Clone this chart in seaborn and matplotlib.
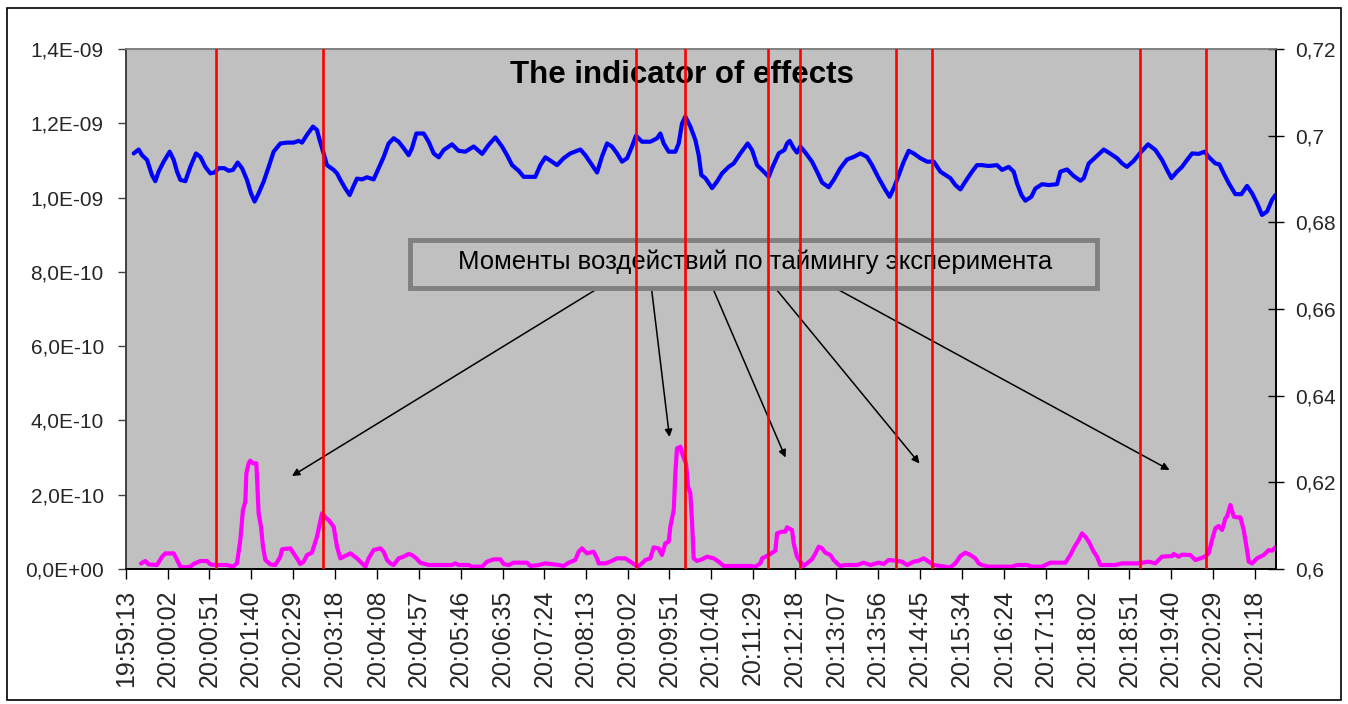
import matplotlib
matplotlib.use("Agg")

import matplotlib.pyplot as plt  # noqa: E402
import pandas as pd  # noqa: E402
import seaborn as sns  # noqa: E402
from matplotlib.patches import Rectangle  # noqa: E402
from matplotlib.ticker import FuncFormatter, MultipleLocator  # noqa: E402

# ---------------------------------------------------------------------------
# Data (seconds after 19:59:13)
# ---------------------------------------------------------------------------
tick_labels = [
    "19:59:13", "20:00:02", "20:00:51", "20:01:40", "20:02:29", "20:03:18",
    "20:04:08", "20:04:57", "20:05:46", "20:06:35", "20:07:24", "20:08:13",
    "20:09:02", "20:09:51", "20:10:40", "20:11:29", "20:12:18", "20:13:07",
    "20:13:56", "20:14:45", "20:15:34", "20:16:24", "20:17:13", "20:18:02",
    "20:18:51", "20:19:40", "20:20:29", "20:21:18",
]

# moments of the experimental effects (red lines)
event_sec = [106.0, 230.9, 598.7, 655.9, 753.7, 791.6, 904.3, 946.6, 1190.4, 1267.6]

# blue series (right axis)
blue_sec = [
    9.0, 14.9, 18.8, 24.7, 30.5, 34.4, 38.3, 44.2, 51.3, 56.0,
    59.9, 63.8, 69.7, 75.5, 82.2, 87.3, 93.1, 99.0, 103.7, 108.8,
    115.4, 120.5, 125.6, 131.1, 136.2, 142.0, 146.7, 151.0, 155.7, 161.6,
    167.5, 173.3, 181.2, 189.0, 196.8, 202.7, 206.6, 212.5, 219.5, 224.2,
    227.3, 232.0, 235.9, 243.8, 247.7, 251.6, 257.5, 262.6, 266.5, 271.2,
    277.0, 282.9, 290.7, 296.6, 302.5, 308.3, 314.2, 320.1, 326.0, 331.8,
    335.7, 340.8, 349.5, 355.3, 361.2, 367.1, 373.0, 382.7, 390.5, 398.4,
    408.2, 418.1, 425.8, 433.6, 441.4, 447.3, 453.2, 461.0, 466.8, 480.5,
    486.4, 492.3, 500.1, 506.0, 513.8, 521.6, 533.4, 539.2, 547.1, 553.0,
    558.8, 564.7, 570.5, 576.4, 582.3, 588.2, 594.0, 598.7, 605.8, 615.5,
    623.4, 627.3, 631.2, 637.1, 644.9, 648.8, 652.7, 656.6, 662.5, 668.4,
    672.3, 675.4, 680.1, 688.0, 693.8, 699.7, 707.5, 713.4, 721.2, 729.8,
    734.9, 740.8, 748.6, 754.5, 758.4, 766.2, 772.9, 776.0, 779.1, 783.8,
    787.7, 791.6, 797.5, 805.3, 811.2, 817.1, 824.9, 830.8, 838.6, 846.4,
    854.3, 862.1, 869.9, 875.8, 883.6, 891.4, 896.5, 902.0, 907.1, 913.0,
    918.8, 924.7, 932.5, 940.4, 948.2, 956.0, 967.7, 973.6, 979.5, 985.3,
    993.2, 999.0, 1004.9, 1012.8, 1022.5, 1028.4, 1036.2, 1042.1, 1046.0, 1051.1,
    1055.8, 1062.8, 1067.5, 1075.4, 1083.2, 1093.0, 1096.9, 1104.7, 1112.5, 1120.4,
    1124.3, 1130.2, 1138.0, 1147.8, 1153.6, 1163.4, 1169.3, 1175.1, 1183.0, 1189.6,
    1199.8, 1208.4, 1216.2, 1222.1, 1227.2, 1233.8, 1239.7, 1245.6, 1251.5, 1259.3,
    1266.3, 1271.0, 1278.8, 1283.5, 1288.6, 1294.6, 1302.3, 1309.4, 1316.0, 1321.9,
    1327.8, 1333.6, 1339.5, 1345.4, 1349.3,
]
blue_val = [
    0.6959, 0.6968, 0.6955, 0.6944, 0.6909, 0.6895, 0.6917, 0.6940, 0.6963, 0.6944,
    0.6917, 0.6898, 0.6895, 0.6928, 0.6959, 0.6951, 0.6928, 0.6913, 0.6915, 0.6925,
    0.6925, 0.6919, 0.6921, 0.6938, 0.6925, 0.6898, 0.6867, 0.6848, 0.6867, 0.6894,
    0.6928, 0.6963, 0.6982, 0.6984, 0.6984, 0.6988, 0.6984, 0.7002, 0.7021, 0.7013,
    0.6990, 0.6959, 0.6932, 0.6921, 0.6913, 0.6898, 0.6878, 0.6863, 0.6881, 0.6901,
    0.6899, 0.6904, 0.6899, 0.6925, 0.6951, 0.6982, 0.6994, 0.6986, 0.6971, 0.6955,
    0.6971, 0.7005, 0.7005, 0.6986, 0.6959, 0.6950, 0.6967, 0.6980, 0.6965, 0.6963,
    0.6975, 0.6958, 0.6979, 0.6996, 0.6975, 0.6955, 0.6932, 0.6919, 0.6905, 0.6905,
    0.6932, 0.6950, 0.6940, 0.6932, 0.6948, 0.6959, 0.6968, 0.6955, 0.6932, 0.6915,
    0.6952, 0.6982, 0.6975, 0.6959, 0.6940, 0.6948, 0.6975, 0.7000, 0.6986, 0.6986,
    0.6994, 0.7005, 0.6982, 0.6963, 0.6963, 0.6982, 0.7028, 0.7044, 0.7021, 0.6990,
    0.6955, 0.6909, 0.6902, 0.6879, 0.6894, 0.6913, 0.6928, 0.6936, 0.6959, 0.6982,
    0.6967, 0.6932, 0.6917, 0.6905, 0.6925, 0.6959, 0.6967, 0.6982, 0.6988, 0.6971,
    0.6961, 0.6975, 0.6961, 0.6940, 0.6917, 0.6892, 0.6881, 0.6898, 0.6925, 0.6945,
    0.6951, 0.6959, 0.6951, 0.6932, 0.6902, 0.6875, 0.6859, 0.6882, 0.6909, 0.6940,
    0.6965, 0.6959, 0.6948, 0.6940, 0.6940, 0.6917, 0.6902, 0.6886, 0.6876, 0.6894,
    0.6917, 0.6932, 0.6932, 0.6930, 0.6932, 0.6921, 0.6928, 0.6917, 0.6890, 0.6863,
    0.6850, 0.6859, 0.6878, 0.6888, 0.6886, 0.6888, 0.6917, 0.6922, 0.6907, 0.6896,
    0.6902, 0.6936, 0.6950, 0.6968, 0.6961, 0.6948, 0.6936, 0.6928, 0.6942, 0.6958,
    0.6980, 0.6967, 0.6944, 0.6921, 0.6902, 0.6917, 0.6928, 0.6944, 0.6959, 0.6958,
    0.6963, 0.6951, 0.6936, 0.6934, 0.6913, 0.6890, 0.6865, 0.6865, 0.6884, 0.6867,
    0.6844, 0.6817, 0.6825, 0.6852, 0.6863,
]

# magenta series (left axis, in units of 1E-10)
pink_sec = [
    17.6, 22.7, 26.6, 36.4, 42.3, 46.2, 56.0, 59.1, 63.8, 69.7,
    75.5, 79.4, 87.3, 95.1, 99.0, 104.9, 118.6, 125.6, 130.3, 134.2,
    137.3, 140.1, 141.3, 144.0, 145.9, 149.1, 153.0, 155.7, 158.5, 160.8,
    163.6, 169.4, 175.3, 181.2, 183.1, 192.9, 196.8, 200.7, 204.6, 208.6,
    212.5, 218.3, 224.2, 230.1, 234.0, 237.9, 243.8, 247.7, 251.6, 259.4,
    263.4, 271.2, 277.0, 281.0, 284.9, 290.7, 298.6, 302.5, 306.4, 310.3,
    314.2, 320.1, 325.9, 331.8, 335.7, 340.8, 345.5, 355.3, 382.7, 386.6,
    390.5, 402.3, 406.2, 418.1, 423.8, 431.6, 439.5, 443.4, 449.2, 455.1,
    470.8, 474.7, 484.5, 492.3, 508.0, 513.8, 519.7, 527.5, 531.4, 535.3,
    541.2, 549.0, 553.0, 554.9, 562.7, 568.6, 576.4, 586.2, 592.1, 598.0,
    601.9, 605.8, 609.7, 615.5, 619.5, 625.3, 629.2, 633.1, 637.1, 639.0,
    643.0, 644.9, 646.8, 650.8, 653.5, 657.4, 659.8, 662.5, 664.5, 666.4,
    670.3, 676.2, 682.1, 689.9, 695.8, 701.7, 709.5, 733.0, 738.8, 744.7,
    746.7, 754.5, 762.3, 764.3, 770.1, 774.0, 776.0, 781.9, 783.8, 787.7,
    791.6, 795.6, 799.5, 805.3, 809.3, 813.2, 817.1, 821.0, 826.9, 830.8,
    834.7, 838.6, 844.5, 858.2, 866.0, 873.8, 883.6, 889.5, 895.3, 903.2,
    911.0, 916.9, 924.7, 930.6, 936.4, 942.3, 948.2, 956.0, 967.7, 973.6,
    979.5, 985.3, 991.2, 997.1, 1001.0, 1004.9, 1012.8, 1040.1, 1046.0, 1057.8,
    1063.6, 1075.4, 1085.2, 1102.8, 1108.6, 1112.5, 1118.4, 1122.3, 1126.2, 1130.2,
    1136.0, 1139.9, 1143.8, 1161.5, 1169.3, 1188.8, 1200.6, 1208.4, 1216.2, 1228.0,
    1229.9, 1235.8, 1239.7, 1249.5, 1255.4, 1261.2, 1266.3, 1271.0, 1274.9, 1278.8,
    1282.7, 1286.7, 1290.6, 1292.5, 1296.5, 1300.4, 1304.3, 1308.2, 1312.1, 1316.0,
    1318.0, 1321.9, 1327.8, 1335.6, 1341.5, 1345.4, 1349.3,
]
pink_val_e10 = [
    0.15, 0.215, 0.125, 0.107, 0.33, 0.42, 0.42, 0.287, 0.063, 0.045,
    0.063, 0.135, 0.215, 0.215, 0.125, 0.107, 0.107, 0.063, 0.152, 0.78,
    1.588, 1.813, 2.575, 2.845, 2.916, 2.845, 2.845, 1.499, 1.139, 0.601,
    0.242, 0.125, 0.107, 0.332, 0.529, 0.556, 0.421, 0.287, 0.134, 0.197,
    0.377, 0.44, 0.87, 1.499, 1.391, 1.319, 1.139, 0.601, 0.287, 0.377,
    0.421, 0.287, 0.152, 0.063, 0.287, 0.511, 0.556, 0.466, 0.242, 0.152,
    0.107, 0.287, 0.332, 0.404, 0.377, 0.287, 0.17, 0.107, 0.107, 0.152,
    0.107, 0.107, 0.063, 0.063, 0.197, 0.26, 0.26, 0.134, 0.107, 0.17,
    0.17, 0.081, 0.107, 0.152, 0.107, 0.081, 0.17, 0.242, 0.466, 0.556,
    0.421, 0.466, 0.287, 0.152, 0.152, 0.197, 0.287, 0.287, 0.197, 0.107,
    0.081, 0.152, 0.242, 0.287, 0.583, 0.556, 0.377, 0.691, 0.736, 1.139,
    1.588, 2.575, 3.248, 3.293, 3.069, 2.845, 2.216, 2.037, 1.274, 0.287,
    0.215, 0.26, 0.332, 0.287, 0.197, 0.081, 0.081, 0.081, 0.063, 0.152,
    0.287, 0.377, 0.493, 0.96, 1.005, 1.005, 1.122, 1.05, 0.691, 0.332,
    0.197, 0.081, 0.152, 0.26, 0.421, 0.601, 0.556, 0.44, 0.377, 0.242,
    0.152, 0.081, 0.107, 0.107, 0.17, 0.107, 0.17, 0.134, 0.242, 0.224,
    0.197, 0.107, 0.197, 0.224, 0.287, 0.197, 0.107, 0.081, 0.045, 0.152,
    0.35, 0.44, 0.377, 0.287, 0.152, 0.107, 0.063, 0.063, 0.107, 0.107,
    0.063, 0.063, 0.17, 0.17, 0.377, 0.556, 0.781, 0.96, 0.87, 0.736,
    0.466, 0.332, 0.107, 0.107, 0.152, 0.152, 0.197, 0.152, 0.332, 0.35,
    0.404, 0.332, 0.386, 0.377, 0.242, 0.287, 0.332, 0.421, 0.781, 1.095,
    1.158, 1.05, 1.364, 1.409, 1.723, 1.409, 1.391, 1.391, 1.05, 0.511,
    0.197, 0.152, 0.287, 0.377, 0.511, 0.493, 0.583,
]

title = "The indicator of effects"
note = "Моменты воздействий по таймингу эксперимента"


def to_sec(label: str) -> int:
    h, m, s = (int(p) for p in label.split(":"))
    return h * 3600 + m * 60 + s - (19 * 3600 + 59 * 60 + 13)


tick_sec = [to_sec(t) for t in tick_labels]
blue_df = pd.DataFrame({"sec": blue_sec, "value": blue_val})
pink_df = pd.DataFrame({"sec": pink_sec, "value": [v * 1e-10 for v in pink_val_e10]})

# ---------------------------------------------------------------------------
# Figure
# ---------------------------------------------------------------------------
sns.set_theme(style="white")
plt.rcParams["font.family"] = ["Liberation Sans", "DejaVu Sans"]

fig = plt.figure(figsize=(13.48, 7.04), dpi=100)
ax = fig.add_axes([126 / 1348, 1 - 569 / 704, 1150 / 1348, 520 / 704])
ax.set_facecolor("#C0C0C0")
ax2 = ax.twinx()

sns.lineplot(data=pink_df, x="sec", y="value", ax=ax, color="#FF00FF",
             linewidth=3.0, errorbar=None)
sns.lineplot(data=blue_df, x="sec", y="value", ax=ax2, color="#0000FF",
             linewidth=3.0, errorbar=None)

for s in event_sec:
    ax2.axvline(s, color="#FF0000", linewidth=1.9, zorder=10)

ax.set_xlim(0, 1350)
ax.set_ylim(0, 1.4e-9)
ax2.set_ylim(0.6, 0.72)
ax.yaxis.set_major_locator(MultipleLocator(2e-10))
ax2.yaxis.set_major_locator(MultipleLocator(0.02))
ax.yaxis.set_major_formatter(FuncFormatter(lambda v, _: f"{v:.1E}".replace(".", ",")))
ax2.yaxis.set_major_formatter(FuncFormatter(lambda v, _: f"{round(v, 2):g}".replace(".", ",")))
ax.yaxis.get_offset_text().set_visible(False)
ax2.yaxis.get_offset_text().set_visible(False)
ax.set_xticks(tick_sec)
ax.set_xticklabels(tick_labels, rotation=90)
for a in (ax, ax2):
    a.set_xlabel("")
    a.set_ylabel("")

ax.tick_params(axis="y", direction="out", length=6, width=1, color="#404040",
               labelsize=15, pad=10, left=True)
ax.tick_params(axis="x", direction="out", length=7, width=1, color="black",
               labelsize=18, pad=8, bottom=True)
ax2.tick_params(axis="y", direction="inout", length=11, width=1, color="black",
                labelsize=15, pad=8, right=True)

for a in (ax, ax2):
    a.spines["left"].set_color("#404040")
    a.spines["top"].set_color("#808080")
    a.spines["right"].set_color("black")
    a.spines["bottom"].set_color("black")
    for sp in a.spines.values():
        sp.set_linewidth(1.2)

ax.text(0.483, 0.95, title, transform=ax.transAxes, ha="center", va="center",
        fontsize=22.5, fontweight="bold", color="black")

# note box with arrows
ax.add_patch(Rectangle((0.247, 0.5404), 0.5973, 0.0923, transform=ax.transAxes,
                       facecolor="#C0C0C0", edgecolor="#808080", linewidth=3.5, zorder=3))
ax.text(0.547, 0.59, note, transform=ax.transAxes, ha="center", va="center",
        fontsize=18.5, color="black", zorder=4)

arrow_tails = [(0.4165, 0.548), (0.4565, 0.548), (0.5087, 0.548), (0.5617, 0.548), (0.6104, 0.548)]
arrow_heads = [(0.1443, 0.1788), (0.4726, 0.2538), (0.5735, 0.2144), (0.69, 0.2029), (0.9074, 0.1904)]
for tail, head in zip(arrow_tails, arrow_heads):
    ax.annotate("", xy=head, xytext=tail, xycoords="axes fraction", textcoords="axes fraction",
                arrowprops=dict(arrowstyle="-|>", color="black", linewidth=1.1,
                                mutation_scale=11, shrinkA=0, shrinkB=0), zorder=2)

# chart-area frame
fig.patches.append(Rectangle((7 / 1348, 4 / 704), 1334 / 1348, 692 / 704,
                             transform=fig.transFigure, fill=False,
                             edgecolor="black", linewidth=1.2))

fig.savefig("out.png", dpi=100)
plt.close(fig)
